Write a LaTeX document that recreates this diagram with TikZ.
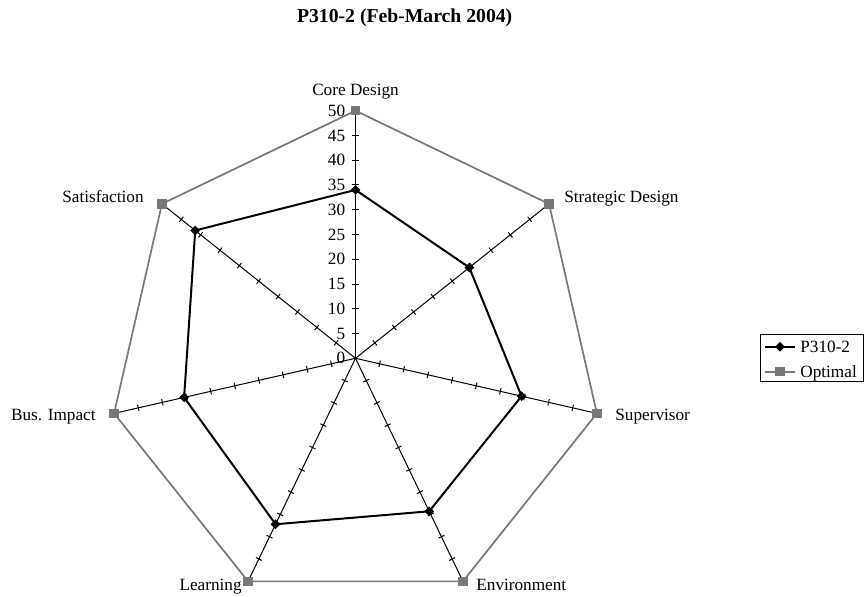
\documentclass[tikz,border=0pt]{standalone}
\usepackage{fontspec}
\setmainfont{Liberation Serif}
\usetikzlibrary{calc,shapes.geometric}
\definecolor{optgray}{RGB}{120,120,120}
\begin{document}
\begin{tikzpicture}[x=0.5pt,y=0.5pt,
  lbl/.style={inner sep=0pt, font=\fontsize{8.6}{10}\selectfont},
  ttl/.style={inner sep=0pt, font=\fontsize{9.85}{11}\selectfont\bfseries},
  axisline/.style={black, line width=0.5pt},
  serA/.style={black, line width=1pt},
  serB/.style={optgray, line width=0.85pt},
  diam/.style={diamond, fill=black, inner sep=0pt, minimum width=5pt, minimum height=5pt},
  sq/.style={rectangle, fill=optgray, inner sep=0pt, minimum size=4.65pt}]
\useasboundingbox (0,0) rectangle (864,597);
\coordinate (O) at (355.5,238.7);
\def\u{4.952}
% axes with ticks
\foreach \k in {0,...,6}{
  \begin{scope}[shift={(O)}, rotate={90-\k*360/7}]
    \draw[axisline] (0,0) -- ({50*\u},0);
    \foreach \j in {1,...,10}{
      \draw[axisline] ({\j*5*\u},-3.3) -- ({\j*5*\u},3.3);
    }
  \end{scope}
}
% value labels
\foreach \v in {0,5,...,50}{
  \node[lbl, anchor=east] (v\v) at ($(O)+(-10,{\v*\u})$) {\v};
}
% data points
\foreach \k/\a/\b in {0/34/50,1/29.4/50,2/34.4/50,3/34.3/50,4/37.2/50,5/35.5/50,6/41.4/50}{
  \coordinate (pa\k) at ($(O)+({90-\k*360/7}:{\a*\u})$);
  \coordinate (pb\k) at ($(O)+({90-\k*360/7}:{\b*\u})$);
}
\draw[serB] (pb0) -- (pb1) -- (pb2) -- (pb3) -- (pb4) -- (pb5) -- (pb6) -- cycle;
\draw[serA] (pa0) -- (pa1) -- (pa2) -- (pa3) -- (pa4) -- (pa5) -- (pa6) -- cycle;
\foreach \k in {0,...,6}{
  \node[sq] (b\k) at (pb\k) {};
  \node[diam] (a\k) at (pa\k) {};
}
% category labels
\node[lbl, anchor=base] (l0) at (355.5,501) {Core Design};
\node[lbl, anchor=base west] (l1) at (564,394.3) {Strategic Design};
\node[lbl, anchor=base west] (l2) at (615,176.3) {Supervisor};
\node[lbl, anchor=base west] (l3) at (476,6) {Environment};
\node[lbl, anchor=base east] (l4) at (242,6) {Learning};
\node[lbl, anchor=base east] (l5) at (96,176.3) {Bus. Impact};
\node[lbl, anchor=base east] (l6) at (144,394.3) {Satisfaction};
% title
\node[ttl, anchor=base west] (title) at (296.7,574.3) {P310-2 (Feb-March 2004)};
% legend
\draw[black, line width=0.5pt] (760,215) rectangle (863,262);
\coordinate (la1) at (765,250.3);
\coordinate (la2) at (795,250.3);
\coordinate (lb1) at (765,225.3);
\coordinate (lb2) at (795,225.3);
\draw[serA] (la1) -- (la2);
\draw[serB] (lb1) -- (lb2);
\node[diam] (lgA) at (780,250.3) {};
\node[sq] (lgB) at (780,225.3) {};
\node[lbl, anchor=base west] (ltA) at (800,244.6) {P310-2};
\node[lbl, anchor=base west] (ltB) at (800,219.6) {Optimal};
\end{tikzpicture}
\end{document}
